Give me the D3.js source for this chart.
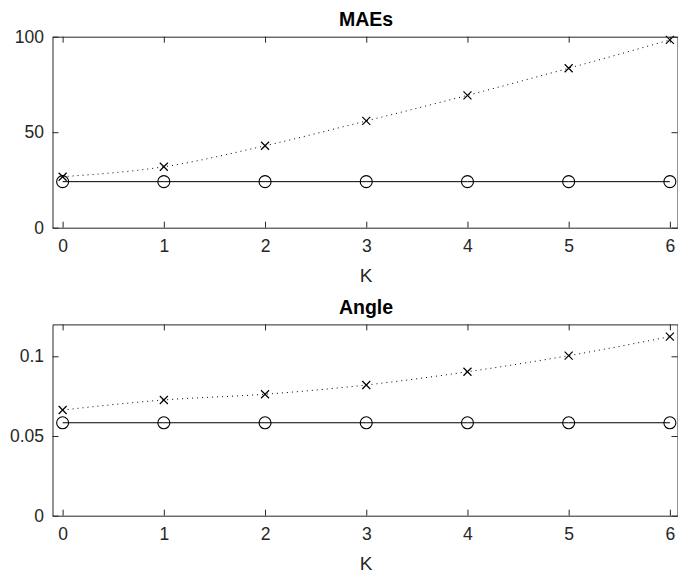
<!DOCTYPE html>
<html>
<head>
<meta charset="utf-8">
<script src="https://cdn.jsdelivr.net/npm/d3@7"></script>
<style>
  body { margin: 0; background: #fff; }
  svg { display: block; font-family: "Liberation Sans", Arial, sans-serif; }
</style>
</head>
<body>
<svg id="chart" width="678" height="574"></svg>
<script>
// values
const kValues = [0, 1, 2, 3, 4, 5, 6]
const maeCross = [26.7, 31.9, 42.9, 55.9, 69.3, 83.5, 98.3]
const maeCircle = [24.1, 24.1, 24.1, 24.1, 24.1, 24.1, 24.1]
const angleCross = [0.0663, 0.0726, 0.0762, 0.082, 0.0903, 0.1004, 0.1123]
const angleCircle = [0.0583, 0.0583, 0.0583, 0.0583, 0.0583, 0.0583, 0.0583]
const maeTicks = [0, 50, 100]
const angleTicks = [0, 0.05, 0.1]

const svg = d3.select("#chart")
const axisColor = "#262626"

function drawPanel(opts) {
    const x = d3.scaleLinear().domain([-0.1, 6.1]).range([52.5, 680])
    const y = d3.scaleLinear().domain(opts.yDomain).range([opts.bottom, opts.top])
    const g = svg.append("g")

    // dotted curve
    g.append("path")
        .datum(kValues.map((k, i) => [k, opts.cross[i]]))
        .attr("fill", "none")
        .attr("stroke", "#000")
        .attr("stroke-width", 1)
        .attr("stroke-dasharray", "1,4")
        .attr("d", d3.line().x(d => x(d[0])).y(d => y(d[1])).curve(d3.curveMonotoneX))

    // solid line
    g.append("path")
        .datum(kValues.map((k, i) => [k, opts.circle[i]]))
        .attr("fill", "none")
        .attr("stroke", "#000")
        .attr("stroke-width", 1)
        .attr("d", d3.line().x(d => x(d[0])).y(d => y(d[1])))

    g.selectAll(".circ")
        .data(kValues)
        .enter()
        .append("circle")
        .attr("cx", d => x(d))
        .attr("cy", (d, i) => y(opts.circle[i]))
        .attr("r", 6)
        .attr("fill", "none")
        .attr("stroke", "#000")
        .attr("stroke-width", 1.1)

    const s = 4
    g.selectAll(".cross")
        .data(kValues)
        .enter()
        .append("path")
        .attr("d", (d, i) => {
            const cx = x(d), cy = y(opts.cross[i])
            return `M${cx - s},${cy - s}L${cx + s},${cy + s}M${cx - s},${cy + s}L${cx + s},${cy - s}`
        })
        .attr("stroke", "#000")
        .attr("stroke-width", 1.2)

    // axes, ticks inside like matlab
    const styleAxis = a => {
        a.select(".domain").attr("stroke", axisColor)
        a.selectAll(".tick line").attr("stroke", axisColor)
        a.selectAll("text").attr("fill", axisColor).style("font-size", "17.5px")
    }
    g.append("g").attr("transform", `translate(0,${opts.bottom})`)
        .call(d3.axisBottom(x).tickValues(kValues).tickSize(-6).tickSizeOuter(0).tickPadding(12).tickFormat(d3.format("d")))
        .call(styleAxis)
    g.append("g").attr("transform", `translate(0,${opts.top})`)
        .call(d3.axisTop(x).tickValues(kValues).tickSize(-6).tickSizeOuter(0).tickFormat(""))
        .call(styleAxis)
    g.append("g").attr("transform", `translate(52.5,0)`)
        .call(d3.axisLeft(y).tickValues(opts.ticks).tickSize(-6).tickSizeOuter(0).tickPadding(8.5).tickFormat(d => String(d)))
        .call(styleAxis)
    g.append("g").attr("transform", `translate(677.5,0)`)
        .call(d3.axisRight(y).tickValues(opts.ticks).tickSize(-6).tickSizeOuter(0).tickFormat(""))
        .call(styleAxis)
    g.selectAll(".domain").attr("stroke-width", 1)

    g.append("text")
        .attr("x", 366).attr("y", opts.top - 10.5)
        .attr("text-anchor", "middle")
        .style("font-size", "19.5px").style("font-weight", "bold")
        .attr("fill", "#000")
        .text(opts.title)
    g.append("text")
        .attr("x", 366).attr("y", opts.bottom + 54)
        .attr("text-anchor", "middle")
        .style("font-size", "19px")
        .attr("fill", axisColor)
        .text("K")
}

drawPanel({ title: "MAEs", top: 36.7, bottom: 227.7, yDomain: [0, 100], ticks: maeTicks, cross: maeCross, circle: maeCircle })
drawPanel({ title: "Angle", top: 324.4, bottom: 515.7, yDomain: [0, 0.12], ticks: angleTicks, cross: angleCross, circle: angleCircle })
</script>
</body>
</html>
